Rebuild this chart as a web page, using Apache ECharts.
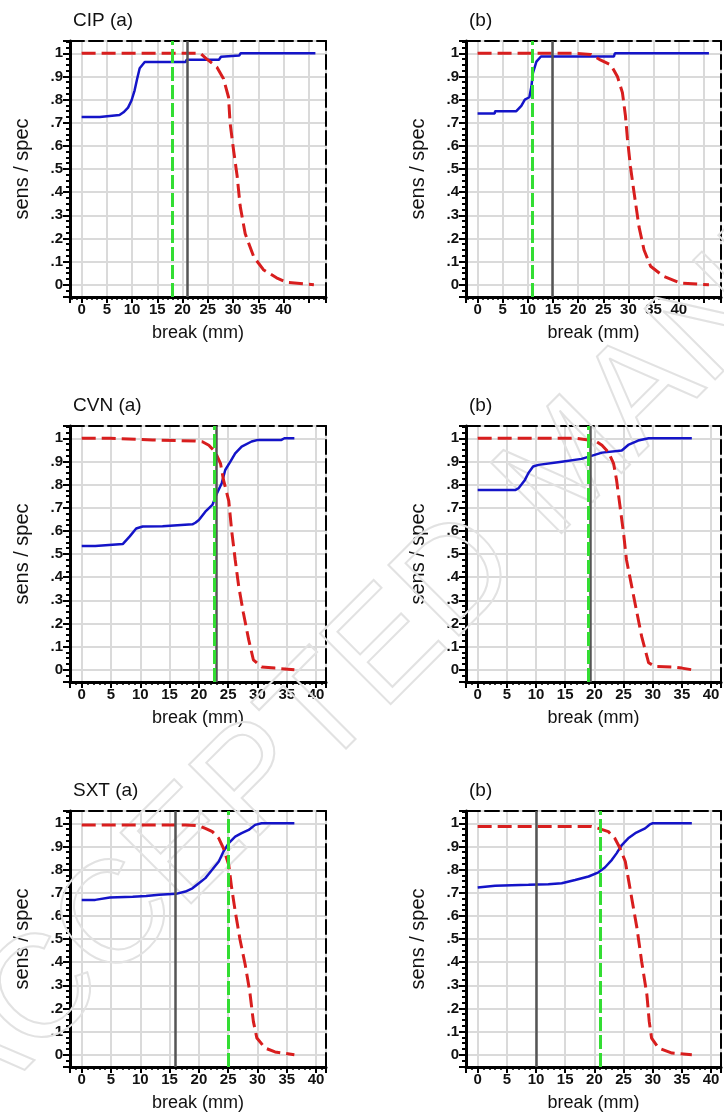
<!DOCTYPE html>
<html>
<head>
<meta charset="utf-8">
<script src="https://cdn.jsdelivr.net/npm/echarts@6/dist/echarts.min.js"></script>
<style>
html, body { margin: 0; padding: 0; background: #fff; }
#chart { width: 724px; height: 1120px; }
</style>
</head>
<body>
<div id="chart"></div>
<script>
// panel titles, row by row
var titles = ['CIP (a)', '(b)', 'CVN (a)', '(b)', 'SXT (a)', '(b)'];

// tick labels
var xTickValues = [0, 5, 10, 15, 20, 25, 30, 35, 40];
var xTickLabels = ['0', '5', '10', '15', '20', '25', '30', '35', '40'];
var yTickValues = [0, 0.1, 0.2, 0.3, 0.4, 0.5, 0.6, 0.7, 0.8, 0.9, 1];
var yTickLabels = ['0', '.1', '.2', '.3', '.4', '.5', '.6', '.7', '.8', '.9', '1'];

// blue solid curves  [break, value]
var cipA_sens = [[0,0.725],[3.6,0.725],[3.7,0.733],[7.5,0.733],[8.3,0.745],[9.2,0.765],[9.9,0.797],[10.5,0.84],[11.0,0.89],[11.5,0.935],[12.5,0.962],[20.6,0.962],[20.8,0.972],[27.2,0.972],[27.6,0.985],[31.2,0.99],[31.5,1],[46.3,1]];
var cipB_sens = [[0,0.74],[3.4,0.74],[3.5,0.75],[7.7,0.75],[8.7,0.773],[9.4,0.8],[10.3,0.81],[10.7,0.856],[11.0,0.914],[11.7,0.964],[12.6,0.986],[27.1,0.986],[27.3,1],[46,1]];
var cvnA_sens = [[0,0.535],[2.3,0.535],[2.4,0.543],[7,0.543],[8.2,0.576],[9.3,0.61],[10.4,0.619],[13.8,0.62],[14,0.628],[18.9,0.628],[19.4,0.635],[20,0.647],[21.1,0.683],[22.3,0.712],[23.1,0.763],[23.9,0.806],[24.5,0.863],[25.4,0.9],[26.2,0.935],[27.3,0.964],[29,0.986],[30.1,0.993],[34.1,0.993],[34.6,1],[36.3,1]];
var cvnB_sens = [[0,0.777],[6.5,0.777],[7.0,0.784],[7.5,0.8],[8.1,0.82],[8.7,0.85],[9.5,0.878],[10.4,0.885],[14.4,0.899],[17.8,0.911],[19.5,0.924],[21.3,0.938],[24.7,0.947],[25.8,0.971],[27.5,0.99],[29.3,1],[36.7,1]];
var sxtA_sens = [[0,0.669],[2.3,0.669],[2.4,0.676],[4.8,0.679],[8.7,0.683],[11,0.686],[13.2,0.691],[16.1,0.695],[17.7,0.705],[18.9,0.719],[20,0.741],[21.1,0.763],[22.3,0.8],[23.4,0.835],[24.2,0.878],[25.1,0.914],[26.2,0.942],[27.3,0.957],[28.5,0.971],[29.6,0.993],[30.7,1],[36.3,1]];
var sxtB_sens = [[0,0.722],[3,0.73],[8.7,0.734],[12.1,0.737],[14.4,0.741],[16.7,0.755],[19,0.77],[20.7,0.788],[21.8,0.809],[23,0.842],[23.8,0.87],[24.7,0.906],[25.8,0.935],[27,0.957],[28.7,0.978],[29.5,0.995],[30,1],[36.7,1]];

// red dashed curves
var cipA_spec = [[0,1],[23.5,1],[24.8,0.975],[26.8,0.94],[28.1,0.89],[29.1,0.81],[29.4,0.7],[30.1,0.58],[30.8,0.47],[31.4,0.34],[32.4,0.22],[34.1,0.12],[36,0.065],[38.6,0.03],[40.7,0.01],[46,0]];
var cipB_spec = [[0,1],[19.2,1],[22.5,0.995],[24.5,0.97],[26.5,0.95],[27.8,0.9],[28.8,0.83],[29.4,0.73],[29.8,0.63],[30.4,0.51],[31.1,0.4],[32.1,0.25],[33.1,0.15],[34.4,0.08],[37,0.036],[40.3,0.007],[46,0]];
var cvnA_spec = [[0,1],[4.8,1],[5,0.993],[12.1,0.993],[12.3,0.988],[19.4,0.988],[20.6,0.985],[21.7,0.97],[22.8,0.94],[23.7,0.89],[24.2,0.82],[25.1,0.73],[25.6,0.6],[26.2,0.475],[26.8,0.36],[27.6,0.245],[28.5,0.13],[29.3,0.043],[30.7,0.012],[33,0.007],[36.3,0]];
var cvnB_spec = [[0,1],[16.7,1],[17,0.993],[19,0.993],[20.1,0.99],[21.3,0.97],[22.4,0.94],[23.3,0.89],[23.8,0.82],[24.4,0.705],[25.0,0.59],[25.5,0.475],[26.4,0.36],[27.3,0.245],[28.1,0.144],[29.3,0.03],[30.4,0.014],[33.3,0.012],[35,0.007],[36.7,0]];
var sxtA_spec = [[0,0.993],[17.7,0.993],[20,0.989],[21.1,0.978],[22.3,0.964],[23.4,0.935],[24.2,0.892],[25.1,0.82],[25.6,0.72],[26.2,0.62],[27,0.5],[27.9,0.39],[28.7,0.27],[29.3,0.144],[29.9,0.072],[31.3,0.029],[33,0.012],[36.3,0]];
var sxtB_spec = [[0,0.986],[19.5,0.986],[20.7,0.978],[22.4,0.964],[23.5,0.935],[24.4,0.892],[25.3,0.835],[25.8,0.763],[26.4,0.676],[27.3,0.547],[28.1,0.403],[29,0.259],[29.4,0.144],[29.8,0.072],[31,0.029],[33.3,0.007],[36.7,0]];

// vertical cut-offs
var grayCut = [20.9, 14.8, 23.0, 19.3, 16.0, 10.0];
var greenCut = [18.0, 10.8, 22.6, 19.0, 25.0, 21.0];

var sensSets = [cipA_sens, cipB_sens, cvnA_sens, cvnB_sens, sxtA_sens, sxtB_sens];
var specSets = [cipA_spec, cipB_spec, cvnA_spec, cvnB_spec, sxtA_spec, sxtB_spec];

var FONT = '"Liberation Sans", Arial, Helvetica, sans-serif';
var colLeft = [70, 466];
var rowTop = [41, 426, 811];
var xRange = [[-2.3, 48.4], [-2.0, 41.7], [-2.0, 41.7]];
var yRange = [-0.053, 1.053];

function lookup(values, labels, v) {
    for (var k = 0; k < values.length; k++) {
        if (Math.abs(values[k] - v) < 1e-6) return labels[k];
    }
    return '';
}

var grids = [], xAxes = [], yAxes = [], series = [], titleList = [];

for (var i = 0; i < 6; i++) {
    var row = Math.floor(i / 2), col = i % 2;
    grids.push({ left: colLeft[col], top: rowTop[row], width: 256, height: 256 });

    titleList.push({
        text: titles[i], left: colLeft[col] + 3, top: rowTop[row] - 30, padding: 0,
        textStyle: { fontFamily: FONT, fontSize: 19, fontWeight: 'normal', color: '#111' }
    });

    xAxes.push({
        type: 'value', gridIndex: i, position: 'bottom',
        min: xRange[row][0], max: xRange[row][1],
        minInterval: 5, maxInterval: 5, splitNumber: 10,
        name: 'break (mm)', nameLocation: 'middle', nameGap: 27,
        nameTextStyle: { fontFamily: FONT, fontSize: 18, color: '#111' },
        axisLine: { onZero: false, lineStyle: { color: '#000', width: 3 } },
        axisTick: { length: 6, lineStyle: { color: '#000', width: 2 } },
        minorTick: { show: true, splitNumber: 5, length: 3, lineStyle: { color: '#000', width: 1.5 } },
        axisLabel: {
            margin: 5, fontFamily: FONT, fontSize: 15, fontWeight: 'bold', color: '#111',
            formatter: function (v) { return lookup(xTickValues, xTickLabels, v); }
        },
        splitLine: { show: true, lineStyle: { color: '#dadada', width: 2 } }
    });
    xAxes.push({
        type: 'value', gridIndex: i, position: 'top',
        min: xRange[row][0], max: xRange[row][1],
        axisLine: { onZero: false, lineStyle: { color: '#000', width: 2, type: [14, 5] } },
        axisTick: { show: false }, axisLabel: { show: false }, splitLine: { show: false }
    });

    yAxes.push({
        type: 'value', gridIndex: i, position: 'left',
        min: yRange[0], max: yRange[1],
        minInterval: 0.1, maxInterval: 0.1, splitNumber: 11,
        name: 'sens / spec', nameLocation: 'middle', nameGap: 38, nameRotate: 90,
        nameTextStyle: { fontFamily: FONT, fontSize: 20, color: '#111' },
        axisLine: { onZero: false, lineStyle: { color: '#000', width: 3 } },
        axisTick: { length: 7, lineStyle: { color: '#000', width: 2 } },
        minorTick: { show: true, splitNumber: 4, length: 4, lineStyle: { color: '#000', width: 2 } },
        axisLabel: {
            margin: 7, fontFamily: FONT, fontSize: 15, fontWeight: 'bold', color: '#111',
            formatter: function (v) { return lookup(yTickValues, yTickLabels, v); }
        },
        splitLine: { show: true, lineStyle: { color: '#dadada', width: 2 } }
    });
    yAxes.push({
        type: 'value', gridIndex: i, position: 'right',
        min: yRange[0], max: yRange[1],
        axisLine: { onZero: false, lineStyle: { color: '#000', width: 2, type: [14, 5] } },
        axisTick: { show: false }, axisLabel: { show: false }, splitLine: { show: false }
    });

    series.push({
        type: 'line', xAxisIndex: 2 * i, yAxisIndex: 2 * i,
        data: sensSets[i], showSymbol: false, z: 3,
        lineStyle: { color: '#1414c8', width: 2.5 },
        markLine: {
            silent: true, symbol: 'none', label: { show: false }, animation: false,
            data: [
                { xAxis: grayCut[i], lineStyle: { color: '#555', width: 2.5, type: 'solid' } },
                { xAxis: greenCut[i], lineStyle: { color: '#33dd33', width: 3, type: [14, 4] } }
            ]
        }
    });
    series.push({
        type: 'line', xAxisIndex: 2 * i, yAxisIndex: 2 * i,
        data: specSets[i], showSymbol: false, z: 4,
        lineStyle: { color: '#d81e1e', width: 3, type: [14, 6] }
    });
}

var chart = echarts.init(document.getElementById('chart'));
chart.setOption({
    animation: false,
    backgroundColor: '#fff',
    title: titleList,
    grid: grids,
    xAxis: xAxes,
    yAxis: yAxes,
    series: series,
    graphic: [{
        type: 'text', x: -62, y: 1100, rotation: Math.PI / 4, silent: true, z: 1,
        style: {
            text: 'ACCEPTED MANUSCRIPT', fontSize: 145, fontFamily: FONT,
            fill: 'rgba(0,0,0,0)', stroke: '#e2e2e2', lineWidth: 2,
            align: 'left', verticalAlign: 'middle'
        }
    }]
});
</script>
</body>
</html>
